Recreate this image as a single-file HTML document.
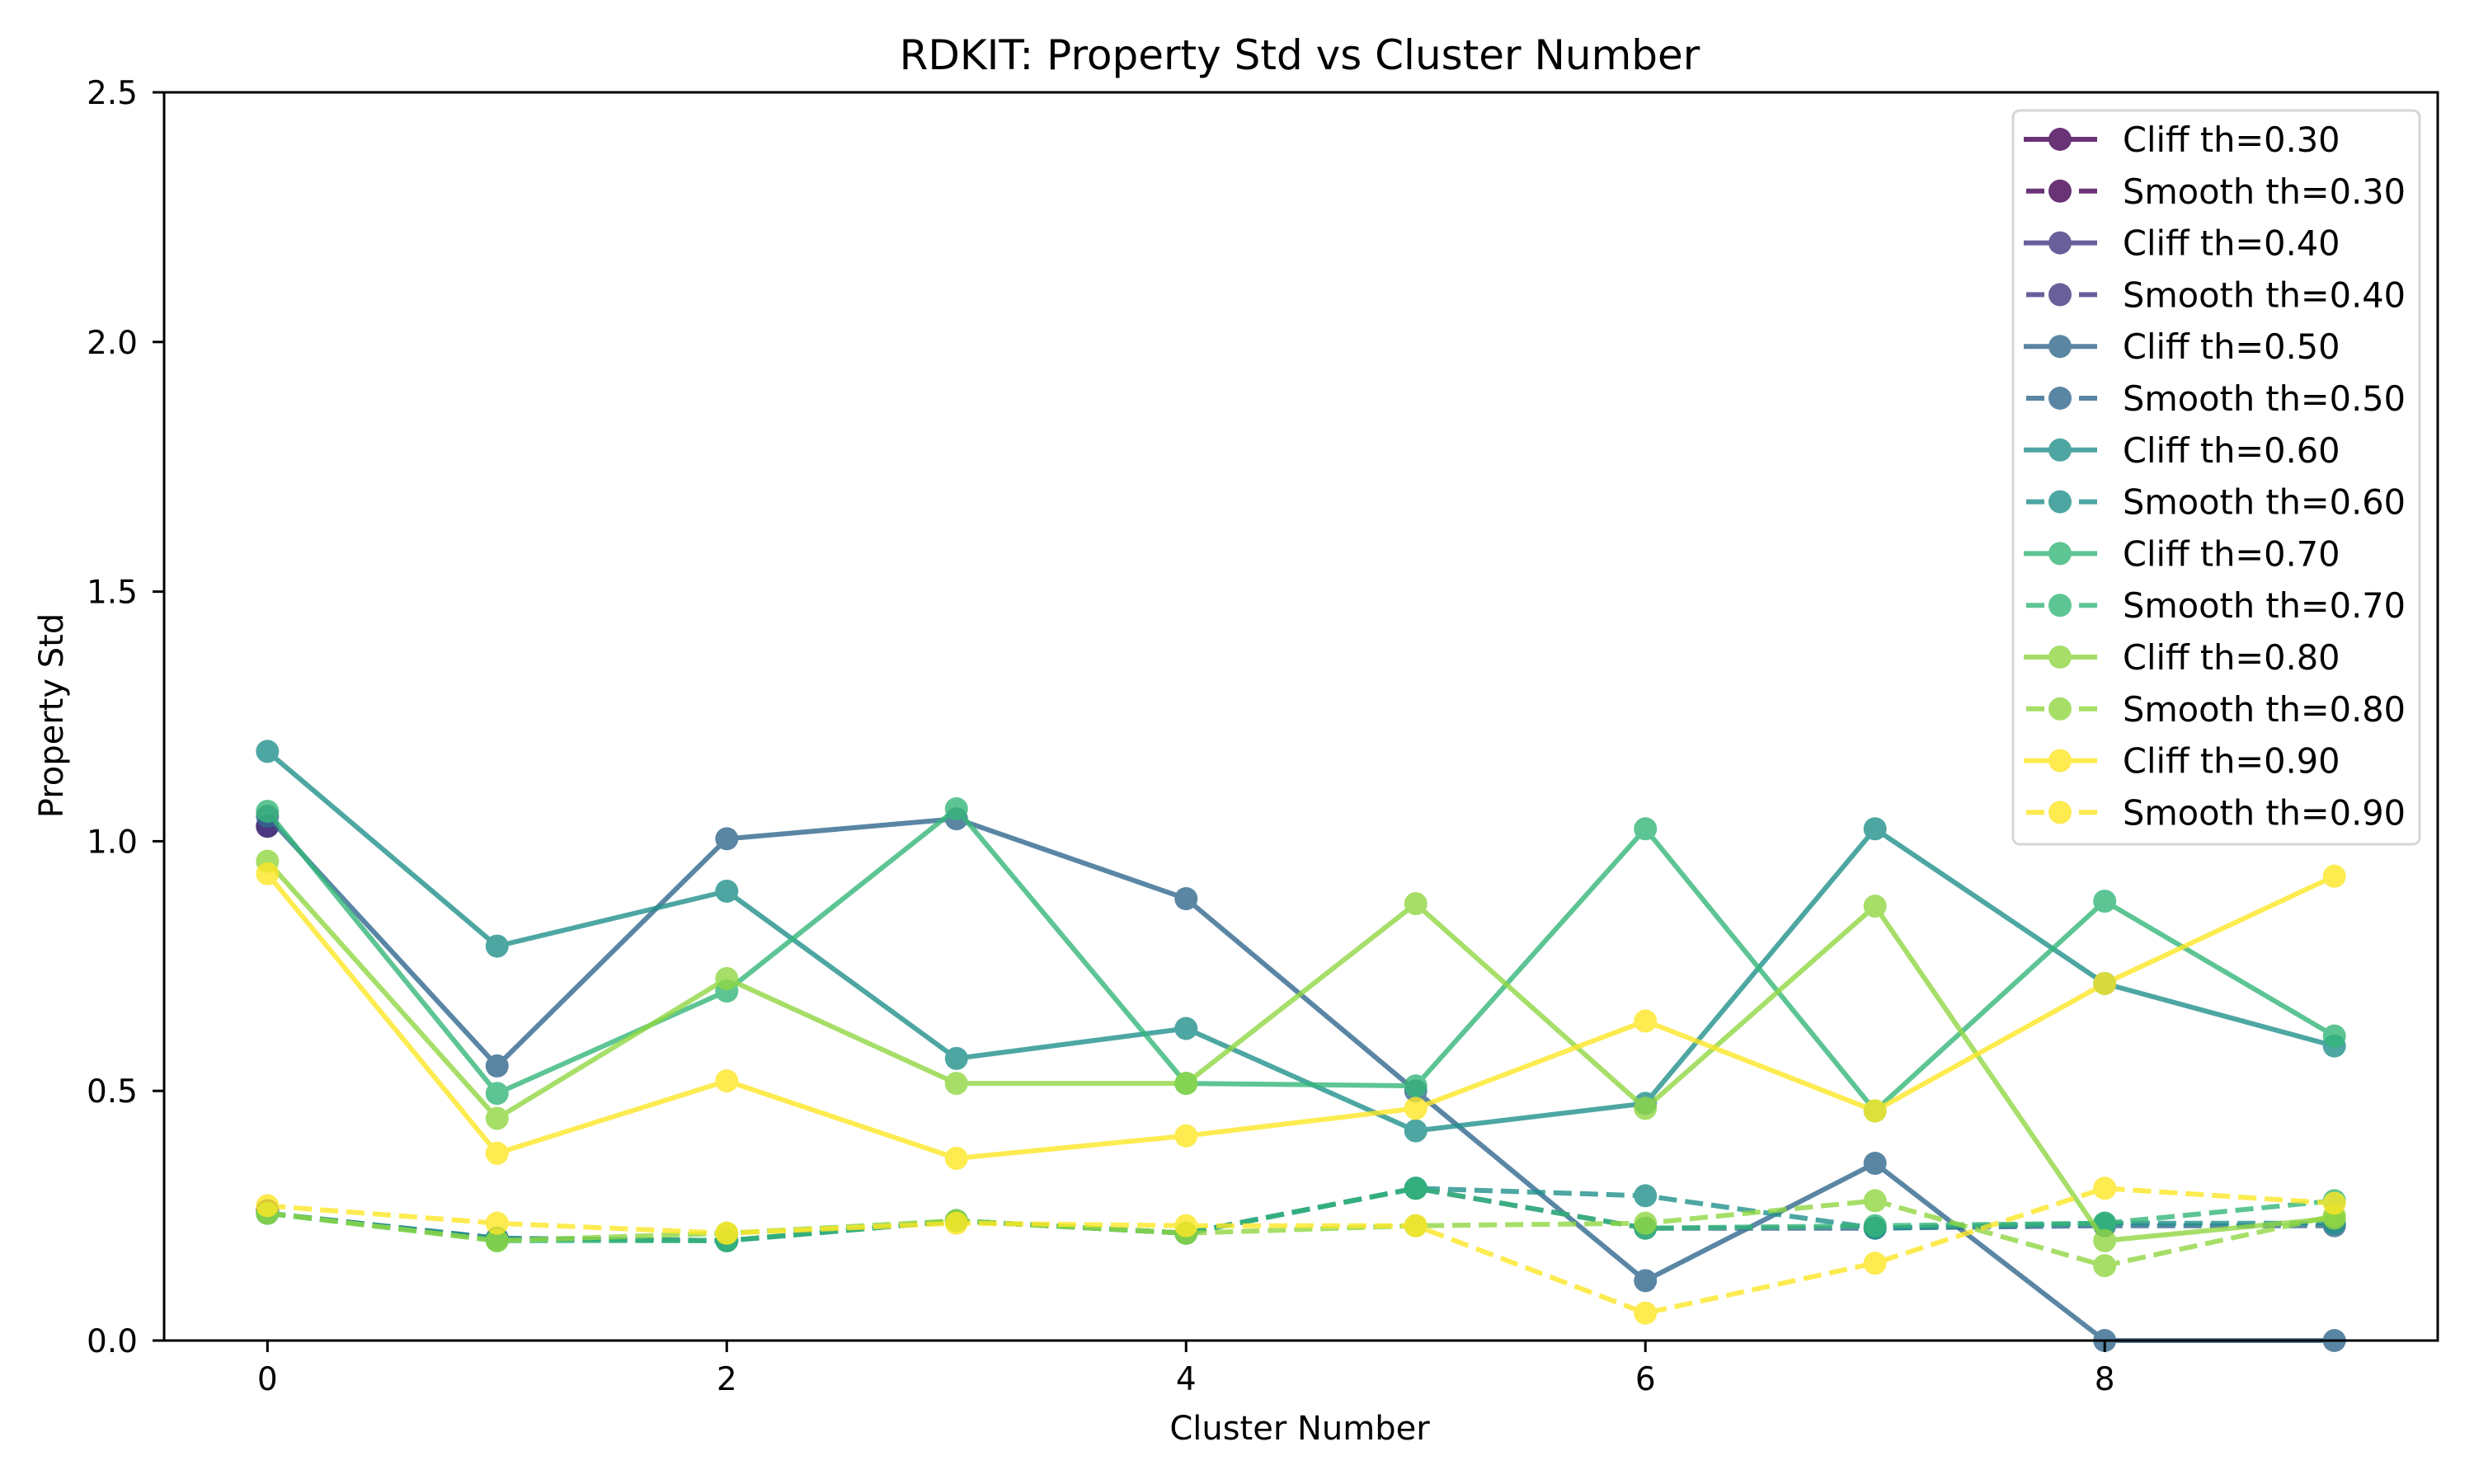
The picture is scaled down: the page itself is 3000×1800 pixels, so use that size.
<!DOCTYPE html>
<html><head><meta charset="utf-8">
<style>
html,body{margin:0;padding:0;background:#fff;}
svg{display:block;font-family:"DejaVu Sans","Liberation Sans",sans-serif;}
</style></head>
<body>
<svg id="chart" width="3000" height="1800" viewBox="0 0 3000 1800" xmlns="http://www.w3.org/2000/svg">
<rect x="0" y="0" width="3000" height="1800" fill="#fff"/>
<text x="1576" y="84" font-size="50" text-anchor="middle">RDKIT: Property Std vs Cluster Number</text>
<text x="1576" y="1746" font-size="40" text-anchor="middle">Cluster Number</text>
<text x="0" y="0" font-size="40" text-anchor="middle" transform="translate(76,868) rotate(-90)">Property Std</text>
<g id="plot"></g>
<g id="axes"></g>
<g id="legend"></g>
</svg>
<script>
const clusters = [0,1,2,3,4,5,6,7,8,9];
const thresholds = ["0.30","0.40","0.50","0.60","0.70","0.80","0.90"];
const colors = ["#440154","#443983","#31688e","#21918c","#35b779","#90d743","#fde725"];
const cliff030 = [1.03];
const smooth030 = [0.26];
const cliff040 = [1.03];
const smooth040 = [0.26];
const cliff050 = [1.05,0.55,1.005,1.045,0.885,0.50,0.12,0.355,0.0,0.0];
const smooth050 = [0.255,0.205,0.20,0.24,0.215,0.305,0.225,0.225,0.23,0.23];
const cliff060 = [1.18,0.79,0.90,0.565,0.625,0.42,0.475,1.025,0.715,0.59];
const smooth060 = [0.255,0.205,0.20,0.24,0.215,0.305,0.29,0.225,0.235,0.235];
const cliff070 = [1.06,0.495,0.70,1.065,0.515,0.51,1.025,0.46,0.88,0.61];
const smooth070 = [0.255,0.20,0.20,0.24,0.215,0.305,0.225,0.23,0.235,0.28];
const cliff080 = [0.96,0.445,0.725,0.515,0.515,0.875,0.465,0.87,0.20,0.245];
const smooth080 = [0.255,0.20,0.215,0.24,0.215,0.23,0.235,0.28,0.15,0.25];
const cliff090 = [0.935,0.375,0.52,0.365,0.41,0.465,0.64,0.46,0.715,0.93];
const smooth090 = [0.27,0.235,0.215,0.235,0.23,0.23,0.055,0.155,0.305,0.275];
const xTicks = [0,2,4,6,8];
const yTicks = [0,0.5,1.0,1.5,2.0,2.5];
const yTickLabels = ["0.0","0.5","1.0","1.5","2.0","2.5"];

const AX = {l:199, r:2956, t:112, b:1626};
const xMin=-0.45, xMax=9.45, yMin=0, yMax=2.5;
function xs(v){return AX.l+(v-xMin)/(xMax-xMin)*(AX.r-AX.l);}
function ys(v){return AX.b-(v-yMin)/(yMax-yMin)*(AX.b-AX.t);}
const NS="http://www.w3.org/2000/svg";
function mk(tag,attrs,parent){const e=document.createElementNS(NS,tag);for(const k in attrs)e.setAttribute(k,attrs[k]);parent.appendChild(e);return e;}

const series = [
 [cliff030,false,0],[smooth030,true,0],
 [cliff040,false,1],[smooth040,true,1],
 [cliff050,false,2],[smooth050,true,2],
 [cliff060,false,3],[smooth060,true,3],
 [cliff070,false,4],[smooth070,true,4],
 [cliff080,false,5],[smooth080,true,5],
 [cliff090,false,6],[smooth090,true,6]
];
const plot=document.getElementById('plot');
series.forEach(function(s){
  const vals=s[0], dashed=s[1], ci=s[2];
  const g=mk('g',{opacity:0.8},plot);
  
  
  const pts=vals.map(function(v,i){return xs(clusters[i]).toFixed(1)+','+ys(v).toFixed(1);}).join(' ');
  if(vals.length>1){
    const pl=mk('polyline',{points:pts,fill:'none',stroke:colors[ci],'stroke-width':6,'stroke-linejoin':'round','stroke-dasharray':dashed?'22 10':'none'},g);
    
    
  }
  vals.forEach(function(v,i){
    const c=mk('circle',{cx:xs(clusters[i]),cy:ys(v),r:14,fill:colors[ci]},g);
    
    
  });
});

const axes=document.getElementById('axes');
const frame=mk('rect',{x:AX.l,y:AX.t,width:AX.r-AX.l,height:AX.b-AX.t,fill:'none',stroke:'#000','stroke-width':3},axes);


xTicks.forEach(function(t){
  const x=xs(t);
  const tk=mk('line',{x1:x,x2:x,y1:AX.b,y2:AX.b+14,stroke:'#000','stroke-width':3},axes);
  
  
  const lb=mk('text',{x:x,y:AX.b+60,'font-size':39,'text-anchor':'middle'},axes);
  lb.textContent=String(t);
  
  
});
yTicks.forEach(function(t,i){
  const y=ys(t);
  const tk=mk('line',{x1:AX.l-14,x2:AX.l,y1:y,y2:y,stroke:'#000','stroke-width':3},axes);
  
  
  const lb=mk('text',{x:AX.l-32,y:y+14,'font-size':39,'text-anchor':'end'},axes);
  lb.textContent=yTickLabels[i];
  
  
});

const legend=document.getElementById('legend');


mk('rect',{x:2441,y:134,width:493,height:890,rx:8,fill:'#fff','fill-opacity':0.8,stroke:'#d6d6d6','stroke-width':3},legend);
series.forEach(function(s,i){
  const dashed=s[1], ci=s[2];
  const y=169+i*62.8;
  const g=mk('g',{},legend);
  
  
  const hg=mk('g',{opacity:0.8},g);
  mk('line',{x1:2454,x2:2543,y1:y,y2:y,stroke:colors[ci],'stroke-width':6,'stroke-dasharray':dashed?'22 10':'none','stroke-dashoffset':dashed?'-3':'0'},hg);
  mk('circle',{cx:2498,cy:y,r:14,fill:colors[ci]},hg);
  const t=mk('text',{x:2574,y:y+15,'font-size':41.5},g);
  t.textContent=(dashed?'Smooth':'Cliff')+' th='+thresholds[ci];
});
</script>
</body></html>
